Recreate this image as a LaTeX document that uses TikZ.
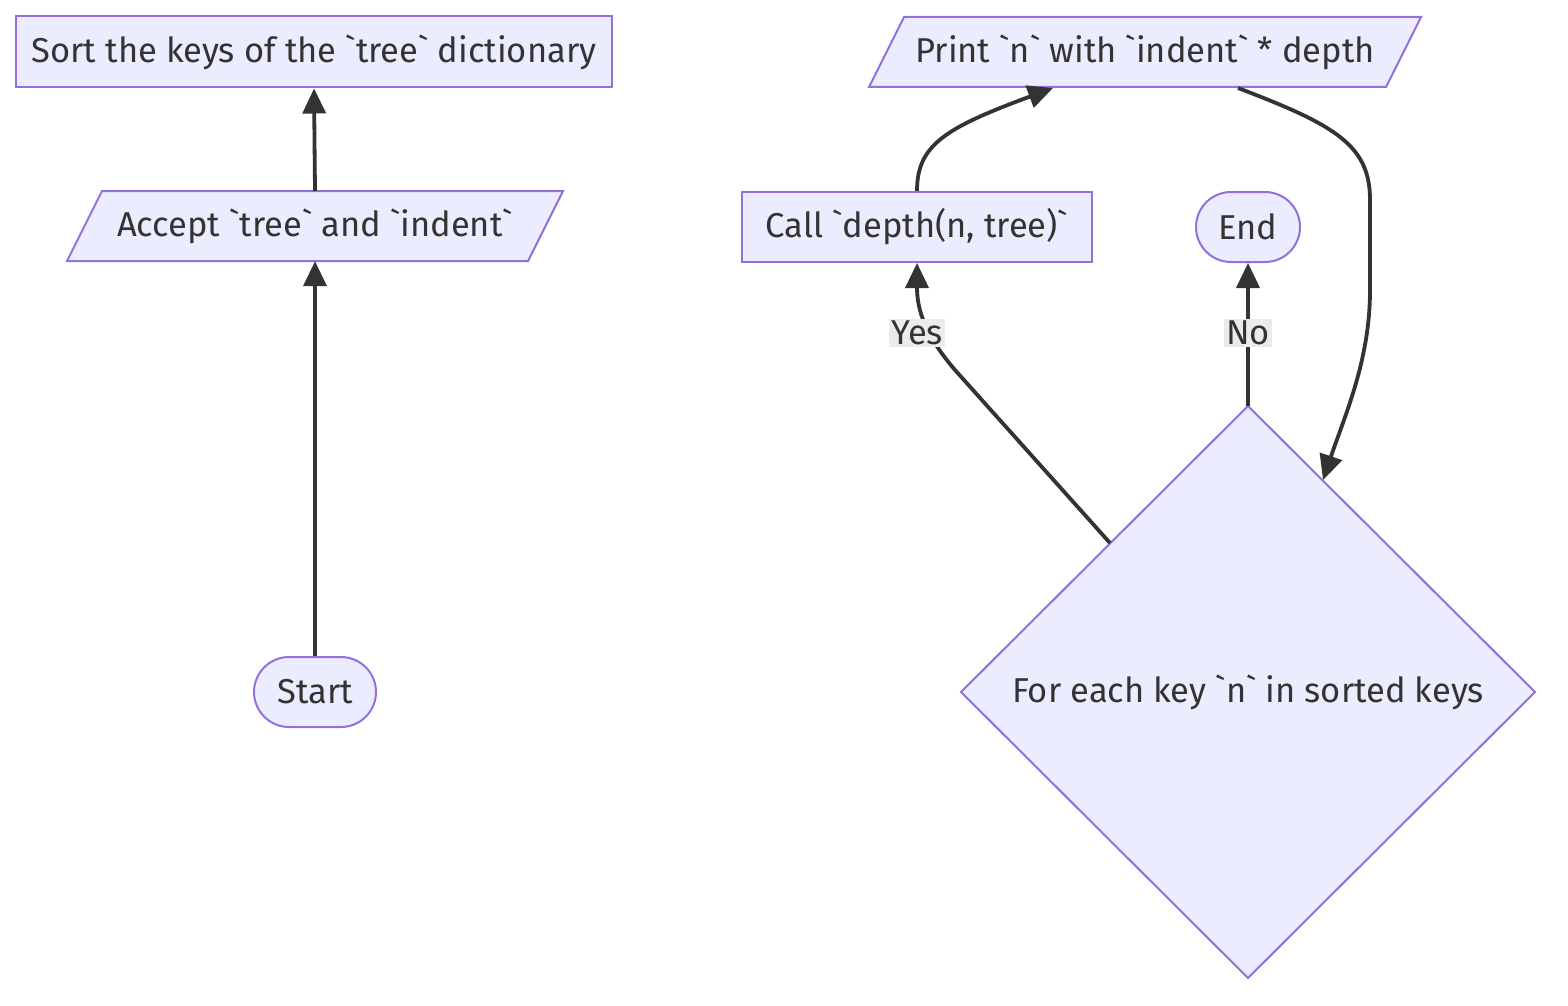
\documentclass[tikz,border=0pt]{standalone}
\usepackage{fontspec}
\setmainfont{Fira Sans}
\usetikzlibrary{arrows.meta}
\definecolor{nodefill}{HTML}{ECECFF}
\definecolor{nodeline}{HTML}{9370DB}
\definecolor{edgeline}{HTML}{333333}
\definecolor{lblbg}{HTML}{EBEBEB}
\newcommand\bq{\textasciigrave}
\begin{document}
\begin{tikzpicture}[x=1pt,y=-1pt,
  every node/.style={font=\fontsize{34.5}{40}\selectfont, text=edgeline},
  procbox/.style={draw=nodeline, fill=nodefill, line width=2pt, rectangle, inner sep=0pt},
  termbox/.style={draw=nodeline, fill=nodefill, line width=2pt, rectangle, rounded corners=35pt, inner sep=0pt, minimum height=70pt},
  shapeline/.style={draw=nodeline, fill=nodefill, line width=2pt, line join=miter},
  plain/.style={inner sep=0pt},
  flow/.style={draw=edgeline, line width=3.8pt, -{Triangle[length=25pt,width=23pt]}},
  edgelabel/.style={fill=lblbg, inner sep=2pt}
]
\useasboundingbox (0,0) rectangle (1568,1006);

% process boxes
\node[procbox, minimum width=596pt, minimum height=71pt] (sort) at (314,52) {\raisebox{-2pt}{Sort the keys of the \bq tree\bq\ dictionary}};
\node[procbox, minimum width=350pt, minimum height=70pt] (call) at (917,227) {\raisebox{-2pt}{Call \bq depth(n, tree)\bq}};

% terminals
\node[termbox, minimum width=122pt] (start) at (315,692) {\raisebox{-2pt}{Start}};
\node[termbox, minimum width=104pt] (end) at (1248,227) {\raisebox{-2pt}{End}};

% input / output parallelograms
\filldraw[shapeline] (102,191) -- (563,191) -- (528,261) -- (67,261) -- cycle;
\node[plain, minimum width=461pt, minimum height=70pt] (acc) at (315,226) {\raisebox{-2pt}{Accept \bq tree\bq\ and \bq indent\bq}};
\filldraw[shapeline] (904,17) -- (1421,17) -- (1386,87) -- (869,87) -- cycle;
\node[plain, minimum width=482pt, minimum height=70pt] (print) at (1145,52) {\raisebox{-2pt}{Print \bq n\bq\ with \bq indent\bq\ * depth}};

% decision diamond
\filldraw[shapeline] (1248,406) -- (1535,692) -- (1248,978) -- (961,692) -- cycle;
\node[plain, minimum width=574pt, minimum height=572pt] (dec) at (1248,692) {\raisebox{-2pt}{For each key \bq n\bq\ in sorted keys}};

% connector anchor points on shapes
\coordinate (printIn) at (1053,88);
\coordinate (printOut) at (1238,88);
\coordinate (decIn) at (1323,480);
\coordinate (decYes) at (1110,543);

% connectors
\draw[flow] (start.north) -- (acc.south);
\draw[flow] (acc.north) -- (sort.south);
\draw[flow] (call.north) .. controls (917,145) and (945,128) .. (printIn);
\draw[flow] (printOut) .. controls (1335,125) and (1370,145) .. (1370,200) -- (1370,290) .. controls (1370,360) and (1345,415) .. (decIn);
\draw[flow] (decYes) -- (955,370) .. controls (925,335) and (917,310) .. (call.south);
\draw[flow] (dec.north) -- (end.south);

% edge labels
\node[edgelabel] (yes) at (917,333) {Yes};
\node[edgelabel] (no) at (1248,333) {No};
\end{tikzpicture}
\end{document}
